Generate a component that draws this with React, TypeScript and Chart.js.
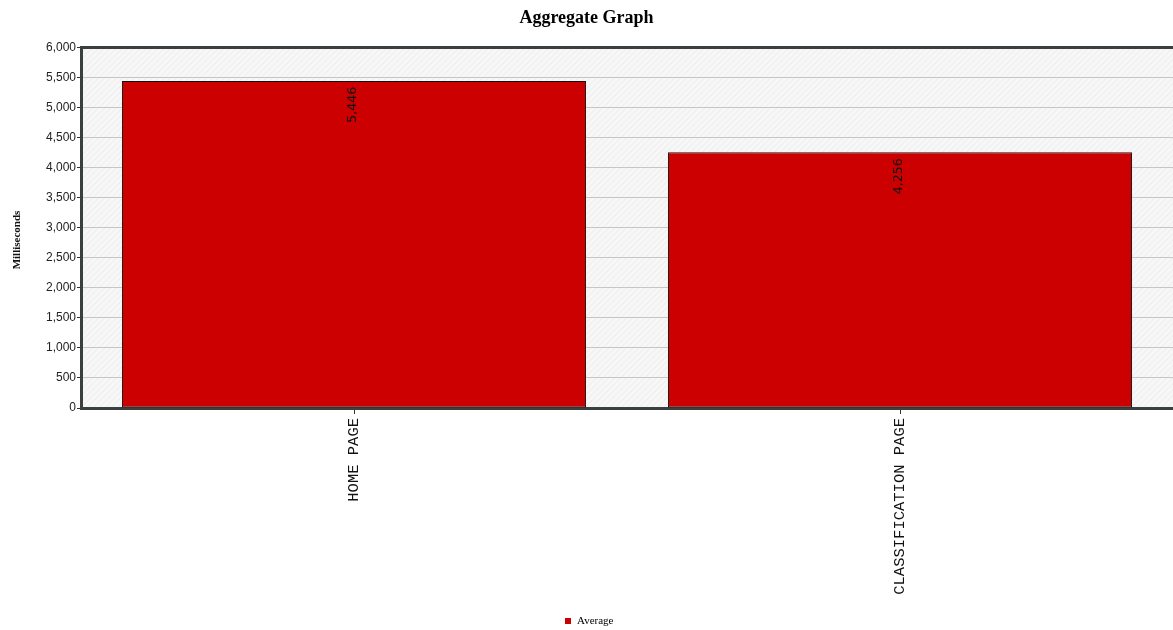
import React, { useEffect, useRef } from "react";
import { Chart, registerables } from "chart.js";

Chart.register(...registerables);

const categories = ["HOME PAGE", "CLASSIFICATION PAGE"];
const averageValues = [5446, 4256];
const seriesName = "Average";
const yAxisTitle = "Milliseconds";
const yMin = 0;
const yMax = 6000;
const yStep = 500;

const fmt = (v: number) => Number(v).toLocaleString("en-US");

const plotDecor = {
  id: "plotDecor",
  beforeDraw(chart: any) {
    const { ctx, chartArea } = chart;
    const { left, top, right, bottom } = chartArea;
    ctx.save();
    ctx.fillStyle = "#f7f7f7";
    ctx.fillRect(left, top, right - left, bottom - top);
    ctx.beginPath();
    ctx.rect(left, top, right - left, bottom - top);
    ctx.clip();
    ctx.strokeStyle = "rgba(228,228,228,0.55)";
    ctx.lineWidth = 1;
    for (let x = left - (bottom - top); x < right; x += 6) {
      ctx.beginPath();
      ctx.moveTo(x, bottom);
      ctx.lineTo(x + (bottom - top), top);
      ctx.stroke();
    }
    ctx.restore();
  },
  afterDraw(chart: any) {
    const { ctx, chartArea } = chart;
    ctx.save();
    ctx.strokeStyle = "#3a3f3f";
    ctx.lineWidth = 3;
    ctx.beginPath();
    ctx.moveTo(chartArea.left, chartArea.top);
    ctx.lineTo(chartArea.right, chartArea.top);
    ctx.stroke();
    ctx.restore();

    // y axis title
    ctx.save();
    ctx.translate(17, 240);
    ctx.rotate(-Math.PI / 2);
    ctx.font = "bold 11px 'Liberation Serif', serif";
    ctx.fillStyle = "#111";
    ctx.textAlign = "center";
    ctx.textBaseline = "middle";
    ctx.fillText(yAxisTitle, 0, 0);
    ctx.restore();

    // legend
    const ds = chart.data.datasets[0];
    ctx.save();
    ctx.fillStyle = ds.backgroundColor;
    ctx.fillRect(565, 618, 6, 6);
    ctx.font = "11px 'Liberation Serif', serif";
    ctx.fillStyle = "#000";
    ctx.textAlign = "left";
    ctx.textBaseline = "middle";
    ctx.fillText(ds.label, 577, 621);
    ctx.restore();
  },
};

const barLabels = {
  id: "barLabels",
  afterDatasetsDraw(chart: any) {
    const { ctx } = chart;
    const meta = chart.getDatasetMeta(0);
    const data = chart.data.datasets[0].data;
    ctx.save();
    ctx.font = "12.5px 'DejaVu Sans', 'Liberation Sans', sans-serif";
    ctx.fillStyle = "#111";
    ctx.textAlign = "right";
    ctx.textBaseline = "middle";
    meta.data.forEach((bar: any, i: number) => {
      ctx.save();
      ctx.translate(bar.x - 1, bar.y + 6);
      ctx.rotate(-Math.PI / 2);
      ctx.fillText(fmt(data[i] as number), 0, 0);
      ctx.restore();
    });
    ctx.restore();
  },
};

export default function App() {
  const ref = useRef<HTMLCanvasElement | null>(null);

  useEffect(() => {
    if (!ref.current) return;
    const chart = new Chart(ref.current, {
      type: "bar",
      data: {
        labels: categories,
        datasets: [
          {
            label: seriesName,
            data: averageValues,
            backgroundColor: "#cc0000",
            borderColor: "#111",
            borderWidth: 1,
            borderSkipped: false,
            categoryPercentage: 0.85,
            barPercentage: 1.0,
          },
        ],
      },
      options: {
        animation: false,
        responsive: false,
        maintainAspectRatio: false,
        layout: { padding: { left: 0, right: 0, top: 0, bottom: 0 } },
        plugins: {
          tooltip: { enabled: false },
          title: {
            display: true,
            text: "Aggregate Graph",
            color: "#000",
            font: { family: "'Liberation Serif', serif", size: 18, weight: "bold" },
            padding: { top: 8, bottom: 18 },
          },
          legend: { display: false },
        },
        scales: {
          x: {
            grid: {
              display: true,
              offset: false,
              drawOnChartArea: false,
              tickLength: 6,
              tickColor: "#333",
            },
            border: { color: "#3a3f3f", width: 3 },
            ticks: {
              maxRotation: 90,
              minRotation: 90,
              color: "#111",
              font: { family: "'Liberation Mono', 'Courier New', monospace", size: 15.5 },
              padding: 4,
            },
            afterFit(scale: any) {
              scale.height = 222;
            },
          },
          y: {
            min: yMin,
            max: yMax,
            grid: {
              color: "#c4c8c0",
              tickLength: 4,
              tickColor: "#333",
            },
            border: { color: "#3a3f3f", width: 3 },
            ticks: {
              stepSize: yStep,
              color: "#222",
              font: { family: "'Liberation Sans', sans-serif", size: 12 },
              padding: 1,
              callback: (v: any) => fmt(v),
            },
            afterFit(scale: any) {
              scale.width = 81;
            },
          },
        },
      },
      plugins: [plotDecor, barLabels],
    });
    return () => chart.destroy();
  }, []);

  return (
    <div style={{ position: "fixed", left: 0, top: 0, width: 1173, height: 630, background: "#fff" }}>
      <canvas ref={ref} width={1173} height={630} style={{ display: "block" }} />
    </div>
  );
}
